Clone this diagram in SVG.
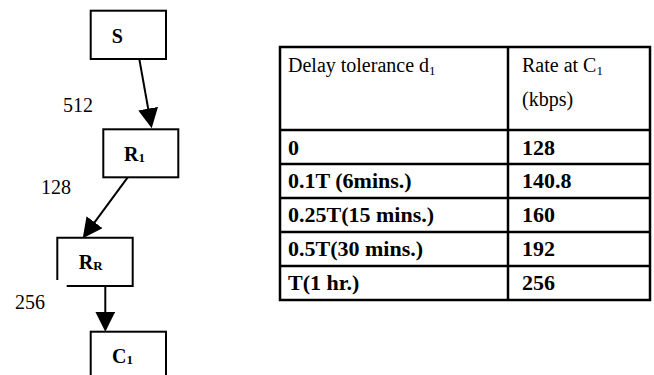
<svg xmlns="http://www.w3.org/2000/svg" width="654" height="375" viewBox="0 0 654 375">
<style>
text{font-family:"Liberation Serif","Tinos","Times New Roman","DejaVu Serif",serif;font-size:20px;fill:#000}
.b{font-weight:bold}
.tb{font-weight:bold;font-size:22px}
.box{fill:none;stroke:#000;stroke-width:2}
.edge{fill:none;stroke:#000;stroke-width:2}
.grid{fill:none;stroke:#000;stroke-width:2.5}
.sub{font-size:13px}
</style>
<defs>
<marker id="ah" markerWidth="21" markerHeight="20" viewBox="0 0 21 20" refX="15" refY="10" orient="auto" markerUnits="userSpaceOnUse">
<path d="M0,0 L20,10 L0,20 z" fill="#000"/>
</marker>
</defs>
<rect width="654" height="375" fill="#fff"/>
<g id="edges">
<line class="edge" x1="139.3" y1="59" x2="150.8" y2="123.4" marker-end="url(#ah)"/>
<line class="edge" x1="127.7" y1="177.3" x2="85.7" y2="234.3" marker-end="url(#ah)"/>
<line class="edge" x1="105.3" y1="286" x2="105.3" y2="326.7" marker-end="url(#ah)"/>
<text x="63" y="112">512</text>
<text x="41" y="194">128</text>
<text x="15" y="309">256</text>
</g>
<g id="S">
<rect class="box" x="90.7" y="10.7" width="75.3" height="48.3"/>
<text class="b" x="111.7" y="42.7">S</text>
</g>
<g id="R1">
<rect class="box" x="103.3" y="129.3" width="75" height="48"/>
<text class="b" x="124" y="161">R<tspan class="sub" dy="1">1</tspan></text>
</g>
<g id="RR">
<path class="box" d="M66.7,286 H132.7 V237.7 H57.3 V280"/>
<text class="b" x="78.7" y="269">R<tspan class="sub" dy="1">R</tspan></text>
</g>
<g id="C1">
<rect class="box" x="90.7" y="331.7" width="75.3" height="60"/>
<text class="b" x="112" y="363">C<tspan class="sub" dy="1">1</tspan></text>
</g>
<g id="table">
<rect class="grid" x="280" y="47" width="370" height="253"/>
<line class="grid" x1="508" y1="47" x2="508" y2="300"/>
<line class="grid" x1="280" y1="130" x2="650" y2="130"/>
<line class="grid" x1="280" y1="164" x2="650" y2="164"/>
<line class="grid" x1="280" y1="198" x2="650" y2="198"/>
<line class="grid" x1="280" y1="232" x2="650" y2="232"/>
<line class="grid" x1="280" y1="266" x2="650" y2="266"/>
<text x="288" y="72">Delay tolerance d<tspan class="sub" dy="3">1</tspan></text>
<text x="522" y="72">Rate at C<tspan class="sub" dy="3">1</tspan></text>
<text x="522" y="106">(kbps)</text>
<text class="tb" x="288" y="155">0</text>
<text class="tb" x="522" y="155">128</text>
<text class="tb" x="288" y="188">0.1T (6mins.)</text>
<text class="tb" x="522" y="188">140.8</text>
<text class="tb" x="288" y="222">0.25T(15 mins.)</text>
<text class="tb" x="522" y="222">160</text>
<text class="tb" x="288" y="256">0.5T(30 mins.)</text>
<text class="tb" x="522" y="256">192</text>
<text class="tb" x="288" y="290">T(1 hr.)</text>
<text class="tb" x="522" y="290">256</text>
</g>
</svg>
